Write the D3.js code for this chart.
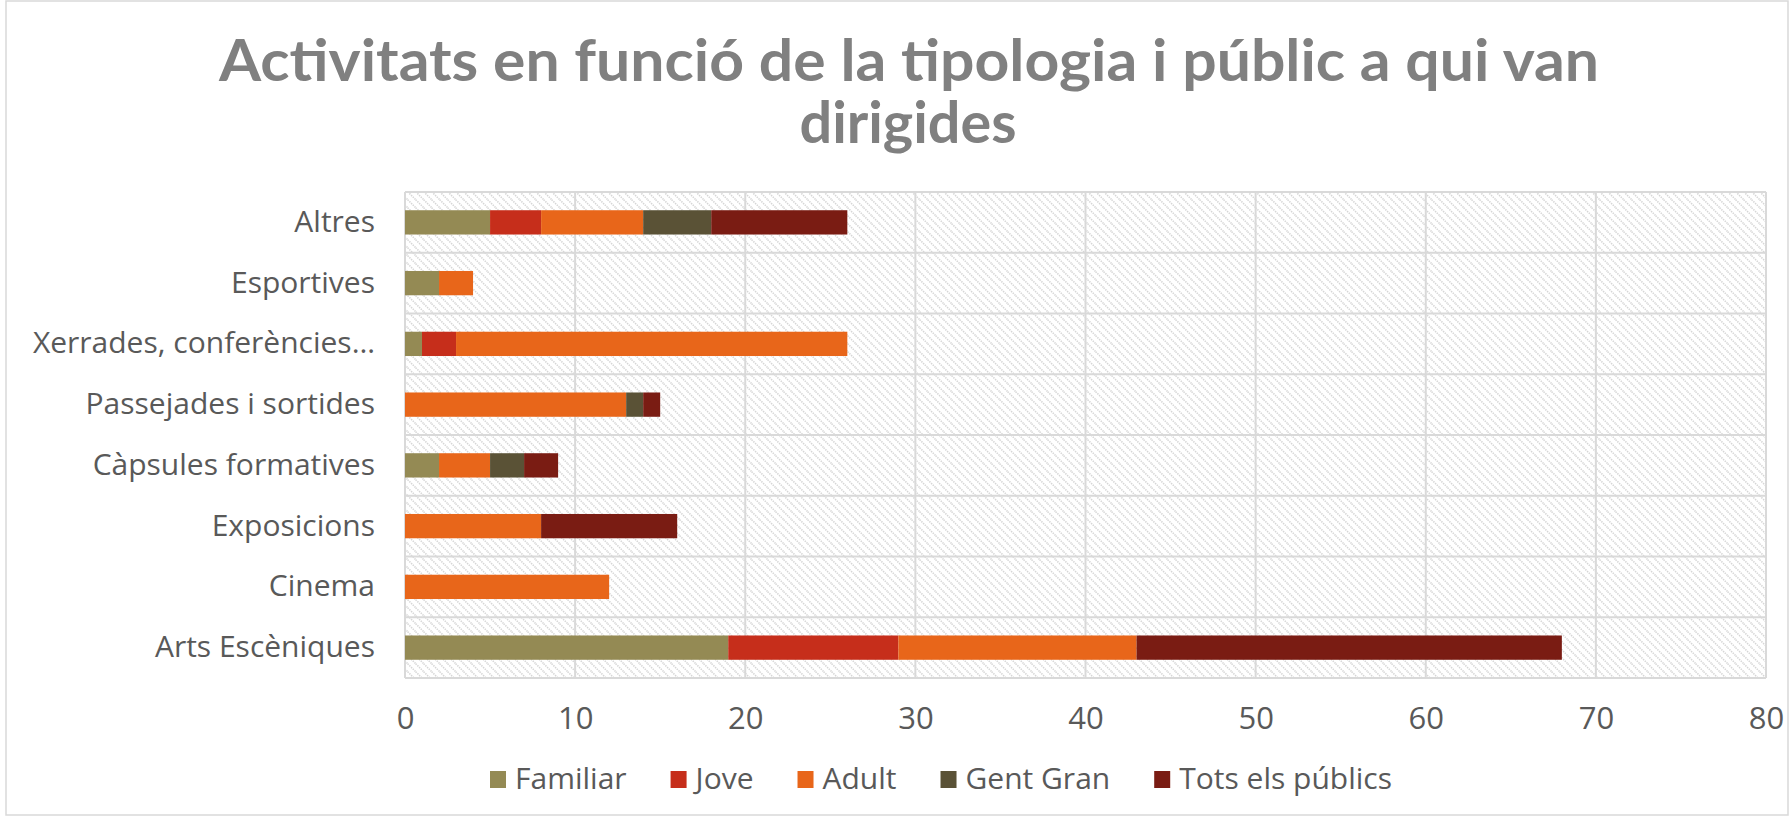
<!DOCTYPE html>
<html>
<head>
<meta charset="utf-8">
<script src="https://cdn.jsdelivr.net/npm/d3@7"></script>
<style>
  body { margin: 0; background: #fff; }
  svg { display: block; }
</style>
</head>
<body>
<svg id="chart"></svg>
<script>
// categories top to bottom, as in the picture
const categories = ["Altres", "Esportives", "Xerrades, conferències…", "Passejades i sortides",
    "Càpsules formatives", "Exposicions", "Cinema", "Arts Escèniques"];
const seriesNames = ["Familiar", "Jove", "Adult", "Gent Gran", "Tots els públics"];
const familiar = [5, 2, 1, 0, 2, 0, 0, 19];
const jove     = [3, 0, 2, 0, 0, 0, 0, 10];
const adult    = [6, 2, 23, 13, 3, 8, 12, 14];
const gentGran = [4, 0, 0, 1, 2, 0, 0, 0];
const tots     = [8, 0, 0, 1, 2, 8, 0, 25];
const xTicks = [0, 10, 20, 30, 40, 50, 60, 70, 80];
const colors = ["#948a54", "#c62e1b", "#e8661a", "#5a5236", "#7a1c13"];
const titleLines = ["Activitats en funció de la tipologia i públic a qui van", "dirigides"];

const width = 1791, height = 817;
const plot = { left: 405, right: 1766, top: 192, bottom: 678 };
const textColor = "#595959";
const gridColor = "#d9d9d9";
const labelFont = "'Open Sans', sans-serif";

const svg = d3.select("#chart").attr("width", width).attr("height", height);

// hatch pattern for plot background
const defs = svg.append("defs");
const pat = defs.append("pattern")
    .attr("id", "hatch")
    .attr("patternUnits", "userSpaceOnUse")
    .attr("width", 8).attr("height", 8);
pat.append("path")
    .attr("d", "M-2,-2 L10,10 M-2,6 L2,10 M6,-2 L10,2")
    .attr("stroke", "#d6d6d6")
    .attr("stroke-width", 1.6)
    .attr("stroke-dasharray", "1.4,1");

// outer chart border
svg.append("rect")
    .attr("x", 6).attr("y", 1)
    .attr("width", width - 9).attr("height", height - 3)
    .attr("fill", "#fff")
    .attr("stroke", gridColor)
    .attr("stroke-width", 1.5);

// title
const title = svg.append("g")
    .attr("font-family", "Lato, 'Open Sans', sans-serif")
    .attr("font-weight", "bold")
    .attr("font-size", 57)
    .attr("fill", "#808080")
    .attr("text-anchor", "middle");
title.append("text").attr("x", 909).attr("y", 81)
    .attr("textLength", 1380).attr("lengthAdjust", "spacingAndGlyphs")
    .text(titleLines[0]);
title.append("text").attr("x", 908).attr("y", 143)
    .attr("textLength", 217).attr("lengthAdjust", "spacingAndGlyphs")
    .text(titleLines[1]);

// scales
const x = d3.scaleLinear().domain([0, 80]).range([plot.left, plot.right]);
const y = d3.scaleBand().domain(categories)
    .range([plot.top, plot.bottom])
    .paddingInner(0.6).paddingOuter(0.3);
const rows = d3.scaleBand().domain(categories).range([plot.top, plot.bottom]);

// plot background
svg.append("rect")
    .attr("x", plot.left).attr("y", plot.top)
    .attr("width", plot.right - plot.left).attr("height", plot.bottom - plot.top)
    .attr("fill", "url(#hatch)");

// gridlines
const grid = svg.append("g").attr("stroke", gridColor).attr("stroke-width", 2);
grid.selectAll("line.v")
    .data(xTicks)
    .enter().append("line")
    .attr("class", "v")
    .attr("x1", d => x(d)).attr("x2", d => x(d))
    .attr("y1", plot.top).attr("y2", plot.bottom);
grid.selectAll("line.h")
    .data(categories)
    .enter().append("line")
    .attr("class", "h")
    .attr("x1", plot.left).attr("x2", plot.right)
    .attr("y1", d => rows(d)).attr("y2", d => rows(d));
grid.append("line")
    .attr("x1", plot.left).attr("x2", plot.right)
    .attr("y1", plot.bottom).attr("y2", plot.bottom);

// stacked bars
const table = categories.map((c, i) => ({
    cat: c,
    "Familiar": familiar[i],
    "Jove": jove[i],
    "Adult": adult[i],
    "Gent Gran": gentGran[i],
    "Tots els públics": tots[i]
}));
const stacked = d3.stack().keys(seriesNames)(table);

svg.append("g").selectAll("g")
    .data(stacked)
    .enter().append("g")
    .attr("fill", (d, i) => colors[i])
    .selectAll("rect")
    .data(d => d.filter(p => p[1] - p[0] > 0))
    .enter().append("rect")
    .attr("x", d => x(d[0]))
    .attr("width", d => x(d[1]) - x(d[0]))
    .attr("y", d => y(d.data.cat))
    .attr("height", y.bandwidth());

// category axis
const yAxis = svg.append("g")
    .attr("transform", `translate(${plot.left},0)`)
    .call(d3.axisLeft(y).tickSize(0).tickPadding(30));
yAxis.select(".domain").remove();
yAxis.selectAll("text")
    .attr("font-family", labelFont)
    .attr("font-size", 30)
    .attr("fill", textColor);

// value axis
const xAxis = svg.append("g")
    .attr("transform", `translate(0,${plot.bottom})`)
    .call(d3.axisBottom(x).tickValues(xTicks).tickSize(0).tickPadding(29));
xAxis.select(".domain").remove();
xAxis.selectAll("text")
    .attr("font-family", "'Open Sans', sans-serif")
    .attr("font-size", 31)
    .attr("fill", textColor);

// legend
const legend = svg.append("g")
    .attr("font-family", labelFont)
    .attr("font-size", 30)
    .attr("fill", textColor);
const items = legend.selectAll("g")
    .data(seriesNames)
    .enter().append("g");
items.append("rect")
    .attr("y", 771).attr("width", 16).attr("height", 17)
    .attr("fill", (d, i) => colors[i]);
items.append("text")
    .attr("x", 25).attr("y", 789)
    .text(d => d);
let widths = [];
items.each(function () { widths.push(this.querySelector("text").getComputedTextLength() + 25); });
const gap = 44;
const total = d3.sum(widths) + gap * (widths.length - 1);
let cursor = 941 - total / 2;
items.attr("transform", (d, i) => {
    const t = `translate(${cursor},0)`;
    cursor += widths[i] + gap;
    return t;
});
</script>
</body>
</html>
